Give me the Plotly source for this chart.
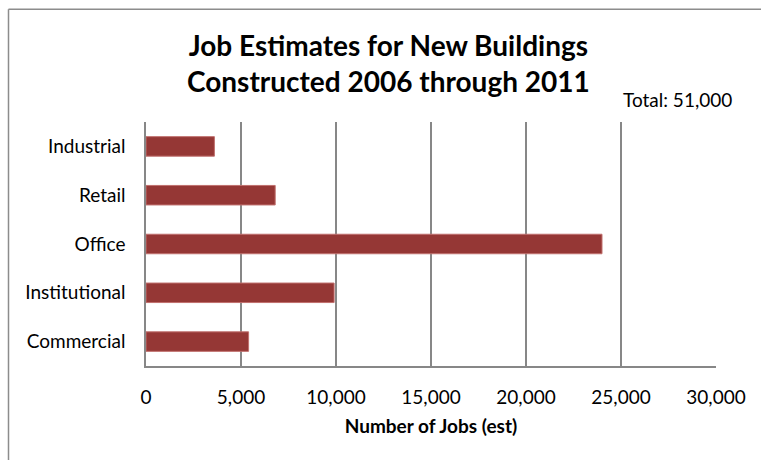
import plotly.graph_objects as go

categories = ["Commercial", "Institutional", "Office", "Retail", "Industrial"]
jobs = [5400, 9900, 24000, 6800, 3600]
x_ticks = [0, 5000, 10000, 15000, 20000, 25000, 30000]
x_tick_labels = ["0", "5,000", "10,000", "15,000", "20,000", "25,000", "30,000"]
title_text = "Job Estimates for New Buildings<br>Constructed 2006 through 2011"
total_text = "Total: 51,000"
x_title = "Number of Jobs (est)"

FONT = "Lato"
W, H = 761, 460
L, R, T, B = 146, 45, 121.5, 94
pw, ph = W - L - R, H - T - B

def px(x):
    return (x - L) / pw

def py(y):
    return (H - B - y) / ph

fig = go.Figure(go.Bar(
    y=categories, x=jobs, orientation="h",
    marker=dict(color="#953735", line=dict(color="#c0706e", width=1)),
    width=0.4,
))

fig.update_layout(
    width=W, height=H,
    margin=dict(l=L, r=R, t=T, b=B),
    paper_bgcolor="white", plot_bgcolor="white",
    showlegend=False,
    font=dict(family=FONT, color="#000000"),
    xaxis=dict(
        range=[0, 30000], tickvals=x_ticks, ticktext=x_tick_labels,
        showgrid=True, gridcolor="#878787", gridwidth=1.5,
        showline=True, linecolor="#878787", linewidth=1.5, mirror=False,
        zeroline=False, ticks="", tickfont=dict(size=19, family=FONT),
        ticklabelstandoff=13,
        title=dict(text="<b>" + x_title + "</b>", font=dict(size=19, family=FONT), standoff=13),
    ),
    yaxis=dict(
        showgrid=False, showline=True, linecolor="#878787", linewidth=1.5,
        ticks="", tickfont=dict(size=19, family=FONT), ticklabelstandoff=15,
        range=[-0.5, 4.5],
    ),
    annotations=[
        dict(text="<b>" + title_text + "</b>", xref="paper", yref="paper",
             x=px(388), y=py(62), xanchor="center", yanchor="middle",
             showarrow=False, font=dict(size=28, family=FONT), align="center"),
        dict(text=total_text, xref="paper", yref="paper",
             x=px(621), y=py(98.5), xanchor="left", yanchor="middle",
             showarrow=False, font=dict(size=19, family=FONT)),
    ],
    shapes=[
        dict(type="line", xref="paper", yref="paper", x0=px(8.5), x1=px(8.5),
             y0=py(8.5), y1=py(470), line=dict(color="#8c8c8c", width=1.5)),
        dict(type="line", xref="paper", yref="paper", x0=px(8.5), x1=px(770),
             y0=py(8.5), y1=py(8.5), line=dict(color="#8c8c8c", width=1.5)),
    ],
)

fig.write_html("out.html")
